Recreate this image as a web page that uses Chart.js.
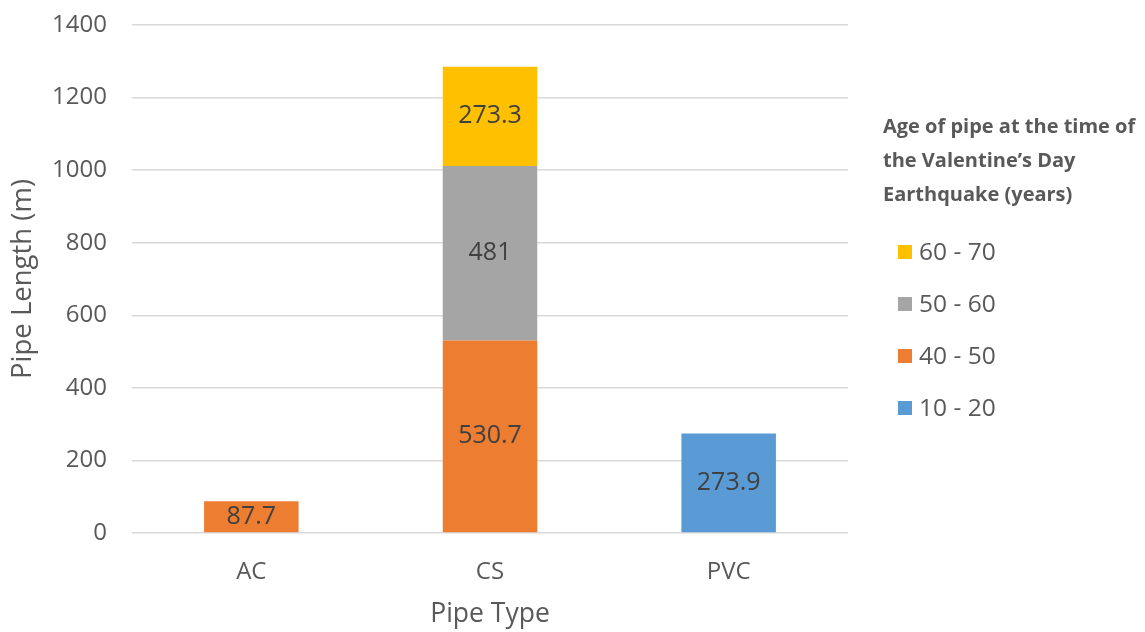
<!DOCTYPE html>
<html>
<head>
<meta charset="utf-8">
<script src="https://cdn.jsdelivr.net/npm/chart.js@4.4.1/dist/chart.umd.min.js"></script>
<style>
  html, body { margin: 0; padding: 0; background: #fff; }
  #wrap { width: 1145px; height: 632px; position: relative; }
</style>
</head>
<body>
<div id="wrap"><canvas id="c" width="1145" height="632"></canvas></div>
<script>
// Pipe types on the x axis
const pipeTypes = ['AC', 'CS', 'PVC'];

// Pipe length (m) per age band, one value per pipe type
const age10to20 = [null, null, 273.9];
const age40to50 = [87.7, 530.7, null];
const age50to60 = [null, 481, null];
const age60to70 = [null, 273.3, null];

const ageLabels = ['10 - 20', '40 - 50', '50 - 60', '60 - 70'];
const ageColors = ['#5B9BD5', '#ED7D31', '#A5A5A5', '#FFC000'];

const yTicks = [0, 200, 400, 600, 800, 1000, 1200, 1400];
const legendTitle = ['Age of pipe at the time of', 'the Valentine\u2019s Day', 'Earthquake (years)'];

const FONT = '"Open Sans", "DejaVu Sans", sans-serif';
const TEXT = '#595959';

// Value labels centred inside each bar segment
const barValueLabels = {
  id: 'barValueLabels',
  afterDatasetsDraw(chart) {
    const ctx = chart.ctx;
    ctx.save();
    ctx.font = '25px ' + FONT;
    ctx.fillStyle = '#404040';
    ctx.textAlign = 'center';
    ctx.textBaseline = 'middle';
    chart.data.datasets.forEach((ds, i) => {
      const meta = chart.getDatasetMeta(i);
      meta.data.forEach((bar, j) => {
        const v = ds.data[j];
        if (v == null) return;
        const yMid = (bar.y + bar.base) / 2;
        ctx.fillText(String(v), bar.x, yMid);
      });
    });
    ctx.restore();
  }
};

// Legend on the right: bold title then items in reverse stacking order
const sideLegend = {
  id: 'sideLegend',
  afterDraw(chart) {
    const ctx = chart.ctx;
    ctx.save();
    ctx.textAlign = 'left';
    ctx.textBaseline = 'middle';
    ctx.fillStyle = TEXT;
    ctx.font = 'bold 20px ' + FONT;
    legendTitle.forEach((line, k) => ctx.fillText(line, 883, 127 + k * 34));
    ctx.font = '24.5px ' + FONT;
    const order = chart.data.datasets.map((d, i) => i).reverse();
    order.forEach((i, k) => {
      const ds = chart.data.datasets[i];
      const y = 252 + k * 52;
      ctx.fillStyle = ds.backgroundColor;
      ctx.fillRect(898, y - 7, 14, 14);
      ctx.fillStyle = TEXT;
      ctx.fillText(ds.label, 919, y + 1);
    });
    ctx.restore();
  }
};

const seriesValues = [age10to20, age40to50, age50to60, age60to70];

new Chart(document.getElementById('c'), {
  type: 'bar',
  data: {
    labels: pipeTypes,
    datasets: seriesValues.map((vals, i) => ({
      label: ageLabels[i],
      data: vals,
      backgroundColor: ageColors[i],
      borderWidth: 0,
      barPercentage: 0.396,
      categoryPercentage: 1.0
    }))
  },
  options: {
    responsive: false,
    animation: false,
    layout: { padding: { left: 0, right: 297, top: 25, bottom: 0 } },
    plugins: {
      legend: { display: false },
      tooltip: { enabled: false }
    },
    scales: {
      x: {
        stacked: true,
        grid: { display: false, drawTicks: false },
        border: { display: false },
        ticks: { color: TEXT, font: { family: FONT, size: 24 }, padding: 25 },
        title: {
          display: true, text: 'Pipe Type', color: TEXT,
          font: { family: FONT, size: 26.5 }, padding: { top: 0, bottom: 2 }
        },
        afterFit(scale) { scale.height = 99; }
      },
      y: {
        stacked: true,
        min: 0, max: 1400,
        afterBuildTicks(scale) { scale.ticks = yTicks.map(v => ({ value: v })); },
        grid: { color: '#D9D9D9', lineWidth: 1.5, drawTicks: false },
        border: { display: false },
        ticks: {
          color: TEXT, font: { family: FONT, size: 24 }, padding: 25,
          callback: (v) => String(v)
        },
        title: {
          display: true, text: 'Pipe Length (m)', color: TEXT,
          font: { family: FONT, size: 27.5 }, padding: { top: 7, bottom: 0 }
        },
        afterFit(scale) {
          scale.width = 132;
          scale.paddingTop = 0;
          scale.paddingBottom = 0;
        }
      }
    }
  },
  plugins: [barValueLabels, sideLegend]
});
</script>
</body>
</html>
